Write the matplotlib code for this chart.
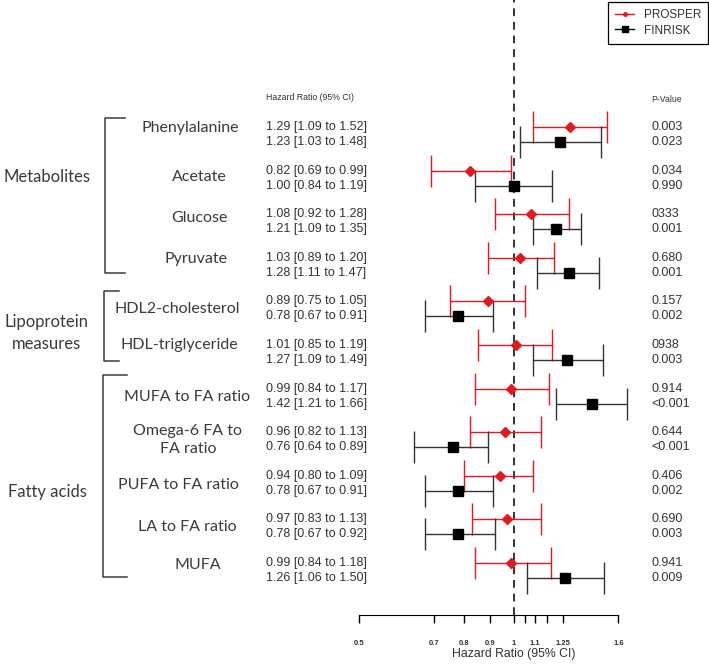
import numpy as np
import matplotlib
matplotlib.use("Agg")
import matplotlib.pyplot as plt
from matplotlib.lines import Line2D
from matplotlib.transforms import blended_transform_factory

# data
rows = ["Phenylalanine", "Acetate", "Glucose", "Pyruvate",
        "HDL2-cholesterol", "HDL-triglyceride",
        "MUFA to FA ratio", "Omega-6 FA to\nFA ratio", "PUFA to FA ratio",
        "LA to FA ratio", "MUFA"]
groups = ["Metabolites", "Lipoprotein\nmeasures", "Fatty acids"]

prosper_hr = [1.29, 0.82, 1.08, 1.03, 0.89, 1.01, 0.99, 0.96, 0.94, 0.97, 0.99]
prosper_lo = [1.09, 0.69, 0.92, 0.89, 0.75, 0.85, 0.84, 0.82, 0.80, 0.83, 0.84]
prosper_hi = [1.52, 0.99, 1.28, 1.20, 1.05, 1.19, 1.17, 1.13, 1.09, 1.13, 1.18]
prosper_p = ["0.003", "0.034", "0333", "0.680", "0.157", "0938",
             "0.914", "0.644", "0.406", "0.690", "0.941"]

finrisk_hr = [1.23, 1.00, 1.21, 1.28, 0.78, 1.27, 1.42, 0.76, 0.78, 0.78, 1.26]
finrisk_lo = [1.03, 0.84, 1.09, 1.11, 0.67, 1.09, 1.21, 0.64, 0.67, 0.67, 1.06]
finrisk_hi = [1.48, 1.19, 1.35, 1.47, 0.91, 1.49, 1.66, 0.89, 0.91, 0.92, 1.50]
finrisk_p = ["0.023", "0.990", "0.001", "0.001", "0.002", "0.003",
             "<0.001", "<0.001", "0.002", "0.003", "0.009"]

xticks = [0.5, 0.7, 0.8, 0.9, 1, 1.05, 1.1, 1.16, 1.25, 1.6]
xtick_labels = ["0.5", "0.7", "0.8", "0.9", "1", "", "1.1", "", "1.25", "1.6"]

RED = "#e3191f"
DARK = "#333333"
LABEL_FONT = "Lato"
NUM_FONT = "Liberation Sans"

W, H = 709, 666
fig = plt.figure(figsize=(W / 100, H / 100), dpi=100)
# axes spans the full width; y in pixel units from top, axis line at y=615
ax = fig.add_axes([0, (H - 615) / H, 1, 615 / H])
ax.set_xscale("log")
ax.set_xlim(np.exp(-513.7 / 222.7), np.exp((W - 513.7) / 222.7))
ax.set_ylim(615, 0)

# layout: row positions in pixels
y_red = 127 + 43.6 * np.arange(len(rows))
y_blk = y_red + 15

ax.axvline(1, color=DARK, lw=1.4, ls=(0, (4, 3)), zorder=1)

pr_hr = np.array(prosper_hr)
fr_hr = np.array(finrisk_hr)
ax.errorbar(pr_hr, y_red, xerr=[pr_hr - prosper_lo, np.array(prosper_hi) - pr_hr],
            fmt="D", color=RED, ms=5, elinewidth=1, capsize=11.5, capthick=1,
            zorder=3)
ax.errorbar(fr_hr, y_blk, xerr=[fr_hr - finrisk_lo, np.array(finrisk_hi) - fr_hr],
            fmt="s", color="black", ecolor=DARK, ms=7.5, elinewidth=1,
            capsize=11.5, capthick=1, zorder=3)

# axis styling
for s in ["left", "right", "top"]:
    ax.spines[s].set_visible(False)
ax.spines["bottom"].set_bounds(0.5, 1.6)
ax.spines["bottom"].set_color("black")
ax.set_yticks([])
ax.set_xticks(xticks)
ax.set_xticklabels(xtick_labels, fontsize=5.5, fontweight="bold",
                   color=DARK, family=NUM_FONT)
ax.xaxis.set_minor_locator(matplotlib.ticker.NullLocator())
ax.tick_params(axis="x", direction="out", length=5.8, width=1, pad=12)
ax.text(1, 654, "Hazard Ratio (95% CI)", ha="center", va="center",
        fontsize=8.8, color=DARK, family=NUM_FONT)

tr = blended_transform_factory(ax.transAxes, ax.transData)

# column headers
ax.text(266 / W, 98, "Hazard Ratio (95% CI)", transform=tr, fontsize=6.3,
        color=DARK, family=NUM_FONT, va="center")
ax.text(651 / W, 99, "P-Value", transform=tr, fontsize=6.3,
        color=DARK, family=NUM_FONT, va="center")

for i in range(len(rows)):
    ax.text(266 / W, y_red[i],
            f"{prosper_hr[i]:.2f} [{prosper_lo[i]:.2f} to {prosper_hi[i]:.2f}]",
            transform=tr, fontsize=9, color=DARK, family=NUM_FONT, va="center")
    ax.text(266 / W, y_blk[i],
            f"{finrisk_hr[i]:.2f} [{finrisk_lo[i]:.2f} to {finrisk_hi[i]:.2f}]",
            transform=tr, fontsize=9, color=DARK, family=NUM_FONT, va="center")
    ax.text(651 / W, y_red[i], prosper_p[i], transform=tr, fontsize=9,
            color=DARK, family=NUM_FONT, va="center")
    ax.text(651 / W, y_blk[i], finrisk_p[i], transform=tr, fontsize=9,
            color=DARK, family=NUM_FONT, va="center")

# row labels (layout positions in pixels)
label_x = [190, 199, 199, 196, 177, 179, 187, 188, 178, 187, 198]
label_y = [128, 177, 218, 259, 309, 345, 397, 440, 485, 527, 565]
for name, lx, ly in zip(rows, label_x, label_y):
    ax.text(lx / W, ly, name, transform=tr, ha="center", va="center",
            multialignment="center", fontsize=11.5, color="#3a3a3a",
            family=LABEL_FONT, linespacing=1.3)

# group labels and brackets
group_y = [177, 333, 492]
brackets = [(105, 118, 273, 125), (104, 291, 361, 119), (103, 375, 577, 127)]
for name, gy in zip(groups, group_y):
    ax.text(47 / W, gy, name, transform=tr, ha="center", va="center",
            multialignment="center", fontsize=12, color="#3a3a3a",
            family=LABEL_FONT, linespacing=1.4)
for bx, top, bot, bend in brackets:
    ax.plot([bend / W, bx / W, bx / W, bend / W], [top, top, bot, bot],
            transform=tr, color="#3a3a3a", lw=1.1, clip_on=False,
            solid_joinstyle="round")

handles = [Line2D([], [], color=RED, marker="o", ms=2.5, lw=1),
           Line2D([], [], color="black", marker="s", ms=4, lw=1)]
leg = ax.legend(handles, ["PROSPER", "FINRISK"], loc="upper right",
                bbox_to_anchor=(708 / W, 1 - 2 / H), bbox_transform=fig.transFigure,
                borderaxespad=0, frameon=True, fancybox=False, framealpha=1,
                handlelength=1.6, handletextpad=0.8, borderpad=0.6,
                labelspacing=0.3, prop={"family": NUM_FONT, "size": 8.5})
leg.get_frame().set_edgecolor("black")
leg.get_frame().set_linewidth(0.9)
for t in leg.get_texts():
    t.set_color(DARK)

fig.savefig("out.png", dpi=100, facecolor="white")
